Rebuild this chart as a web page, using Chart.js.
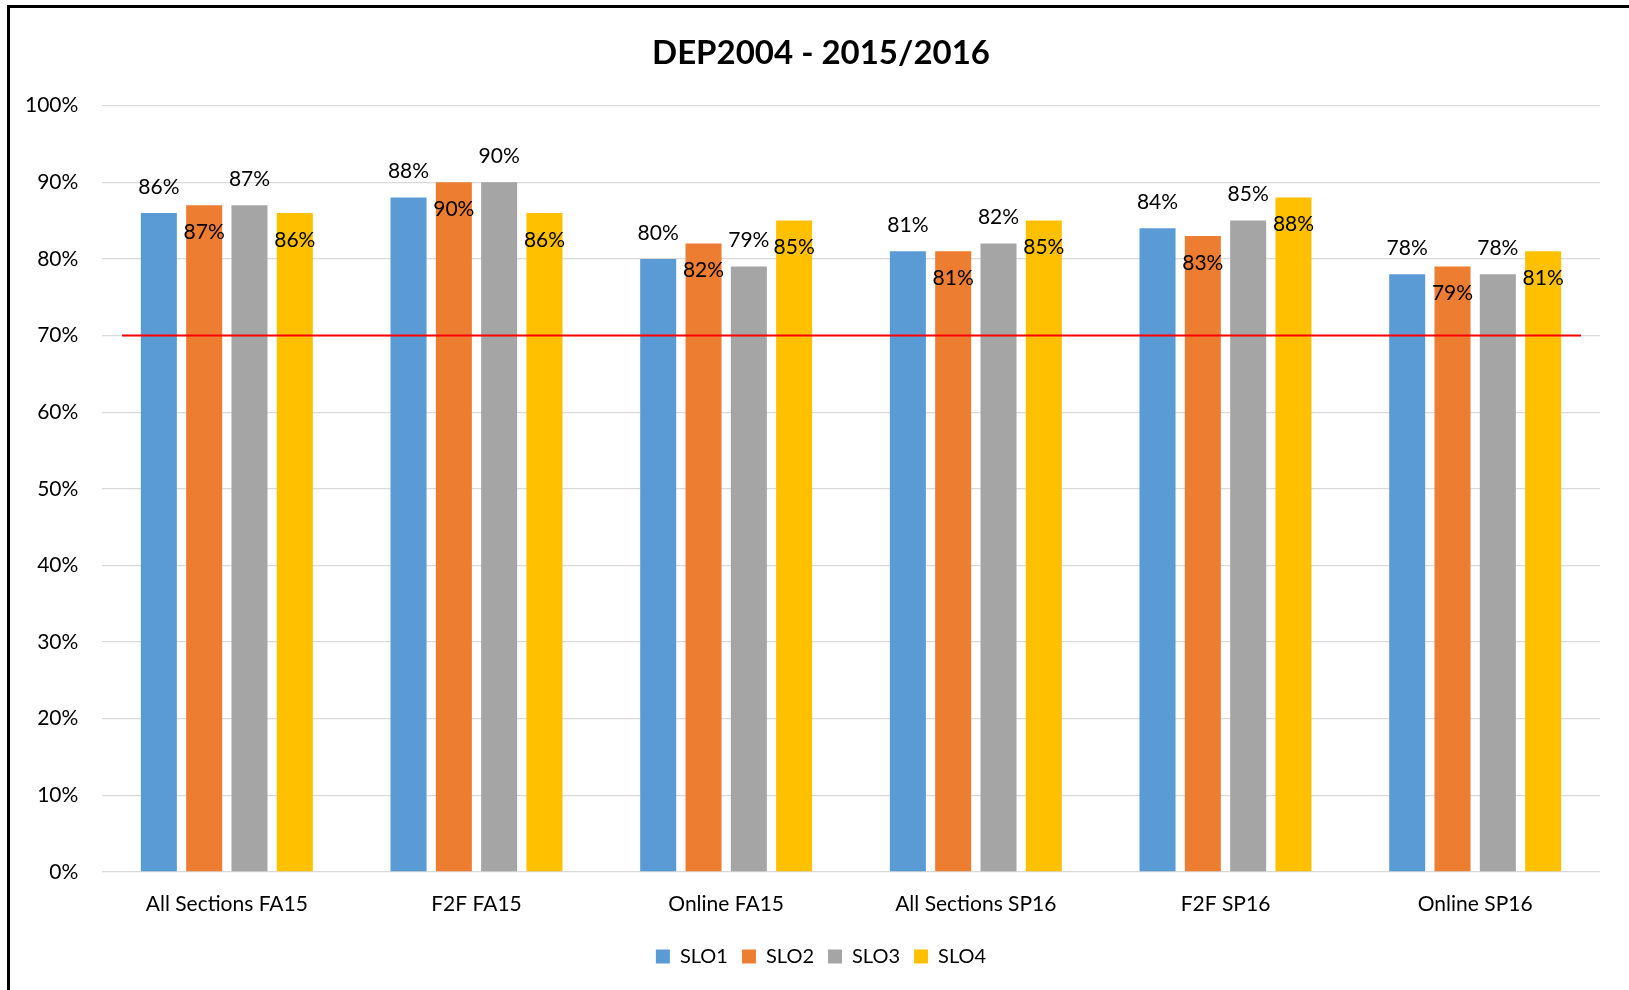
<!DOCTYPE html>
<html lang="en">
  <head>
    <meta charset="UTF-8" />
    <title>DEP2004 - 2015/2016</title>
    <script src="https://cdn.jsdelivr.net/npm/chart.js"></script>
    <style>
      body { margin: 0; overflow: hidden; background: #fff; }
      #frame { position: absolute; left: 7px; top: 5px; width: 1700px; height: 1100px; border: 3px solid #000; }
      #chart { position: absolute; left: 0; top: 0; }
    </style>
  </head>
  <body>
    <div id="frame"></div>
    <canvas id="chart" width="1629" height="990"></canvas>

    <script>
      const categories = ['All Sections FA15', 'F2F FA15', 'Online FA15', 'All Sections SP16', 'F2F SP16', 'Online SP16'];
      const seriesNames = ['SLO1', 'SLO2', 'SLO3', 'SLO4'];
      const slo1 = [86, 88, 80, 81, 84, 78];
      const slo2 = [87, 90, 82, 81, 83, 79];
      const slo3 = [87, 90, 79, 82, 85, 78];
      const slo4 = [86, 86, 85, 85, 88, 81];
      const yMin = 0, yMax = 100, yStep = 10;
      const target = 70; // red benchmark line

      const colors = ['#5B9BD5', '#ED7D31', '#A5A5A5', '#FFC000'];
      const FONT = 'Lato';

      // benchmark line across the plot, drawn on top of the bars
      const targetLine = {
        id: 'targetLine',
        afterDatasetsDraw(chart) {
          const { ctx, chartArea, scales } = chart;
          const y = scales.y.getPixelForValue(target);
          ctx.save();
          ctx.strokeStyle = '#ff0000';
          ctx.lineWidth = 2;
          ctx.beginPath();
          ctx.moveTo(chartArea.left + 20, y);
          ctx.lineTo(chartArea.right - 19, y);
          ctx.stroke();
          ctx.restore();
        }
      };

      // value labels: SLO1/SLO3 above the bar, SLO2/SLO4 just inside the top
      const barLabels = {
        id: 'barLabels',
        afterDatasetsDraw(chart) {
          const ctx = chart.ctx;
          ctx.save();
          ctx.font = '21px ' + FONT;
          ctx.fillStyle = '#000';
          ctx.textAlign = 'center';
          ctx.textBaseline = 'middle';
          chart.data.datasets.forEach((ds, i) => {
            chart.getDatasetMeta(i).data.forEach((bar, j) => {
              const dy = i % 2 === 0 ? -26 : 27;
              ctx.fillText(ds.data[j] + '%', bar.x, bar.y + dy);
            });
          });
          ctx.restore();
        }
      };

      const seriesData = [slo1, slo2, slo3, slo4];

      new Chart(document.getElementById('chart'), {
        type: 'bar',
        data: {
          labels: categories,
          datasets: seriesNames.map((name, i) => ({
            label: name,
            data: seriesData[i],
            backgroundColor: colors[i],
            borderWidth: 0,
            categoryPercentage: 0.726,
            barPercentage: 0.795
          }))
        },
        options: {
          responsive: false,
          animation: false,
          layout: { padding: { left: 42, right: 29, top: 0, bottom: 13.5 } },
          plugins: {
            title: {
              display: true,
              text: 'DEP2004 - 2015/2016',
              color: '#000',
              font: { family: FONT, size: 33, weight: 'bold' },
              padding: { top: 34, bottom: 32 }
            },
            legend: {
              position: 'bottom',
              labels: {
                boxWidth: 14,
                boxHeight: 14,
                padding: 14,
                color: '#000',
                font: { family: FONT, size: 20 }
              }
            },
            tooltip: { enabled: false }
          },
          scales: {
            x: {
              grid: { display: false },
              border: { display: false },
              ticks: {
                color: '#000',
                font: { family: FONT, size: 21 },
                padding: 12,
                maxRotation: 0,
                autoSkip: false
              },
              afterFit: (scale) => { scale.height = 60.5; }
            },
            y: {
              min: yMin,
              max: yMax,
              grid: { color: '#d9d9d9', lineWidth: 1.3, drawTicks: false },
              border: { display: false },
              ticks: {
                stepSize: yStep,
                color: '#000',
                mirror: true,
                crossAlign: 'far',
                padding: -77,
                font: { family: FONT, size: 21 },
                callback: (v) => v + '%'
              },
              afterFit: (scale) => { scale.width = 60; }
            }
          }
        },
        plugins: [targetLine, barLabels]
      });
    </script>
  </body>
</html>
